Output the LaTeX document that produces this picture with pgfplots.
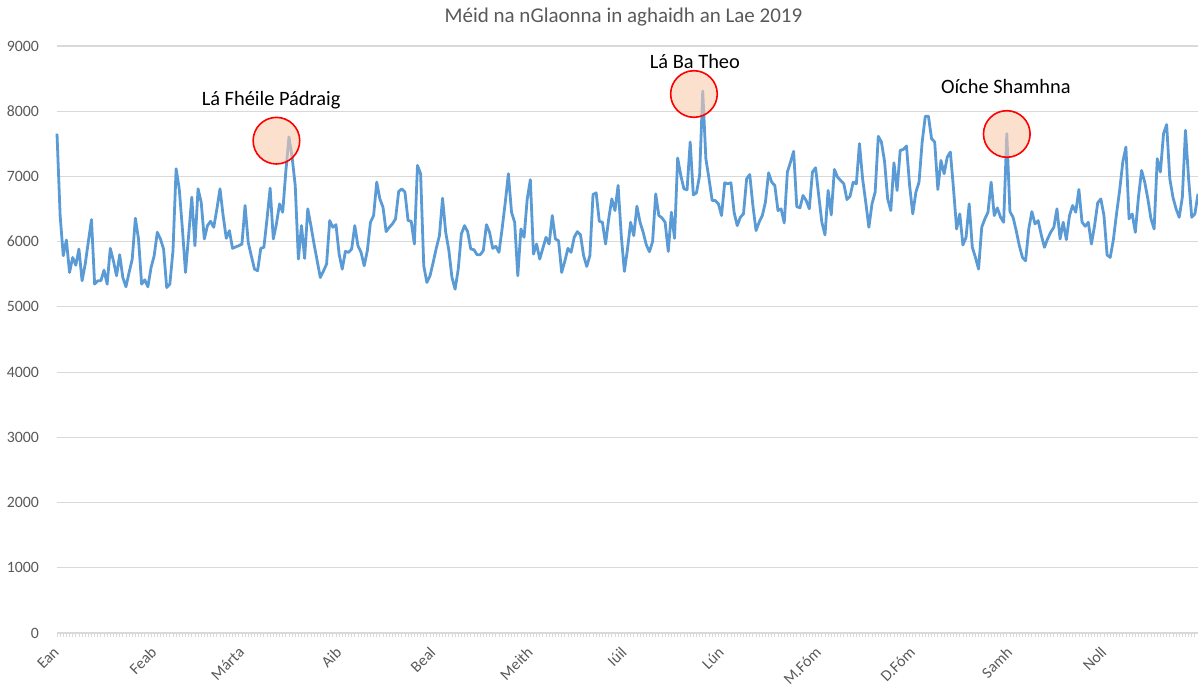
\documentclass[border=0pt]{standalone}
\usepackage{fontspec}
\setmainfont{Carlito}
\usepackage{pgfplots}
\pgfplotsset{compat=1.18}
\definecolor{lineblue}{HTML}{5B9BD5}
\definecolor{gridgray}{HTML}{D9D9D9}
\definecolor{txtgray}{HTML}{595959}
\definecolor{peach}{HTML}{F8CBAD}
\begin{document}
\begin{tikzpicture}
\begin{axis}[
  scale only axis,
  width=570.5pt, height=293.5pt,
  xmin=0, xmax=364, ymin=0, ymax=9000,
  axis lines*=left,
  x axis line style={gridgray, line width=0.6pt},
  y axis line style={draw=none},
  ymajorgrids, grid style={gridgray, line width=0.6pt},
  ytick={0,1000,...,9000},
  ytick style={draw=none},
  yticklabel style={font=\fontsize{7.9pt}{9pt}\selectfont, text=txtgray, xshift=-3.5pt},
  /pgf/number format/assume math mode=true,
  /pgf/number format/1000 sep={},
  xtick={0,31,59,90,120,151,181,212,243,273,304,334},
  xticklabels={Ean,Feab,Márta,Aib,Beal,Meith,Iúil,Lún,M.Fóm,D.Fóm,Samh,Noll},
  minor xtick={0,1,...,364},
  tick align=outside,
  major tick length=2pt, minor tick length=2pt,
  xtick style={gridgray, line width=0.4pt},
  minor tick style={gridgray, line width=0.4pt},
  xticklabel style={font=\fontsize{7.9pt}{9pt}\selectfont, text=txtgray, rotate=45, anchor=north east, xshift=-1.2pt, yshift=1.9pt},
  clip=false,
]
\addplot[lineblue, line width=1.4pt, line join=round] coordinates {
(0,7656) (1,6400) (2,5784) (3,6025) (4,5527) (5,5758) (6,5640) (7,5887) (8,5400) (9,5656)
(10,6000) (11,6338) (12,5349) (13,5400) (14,5400) (15,5564) (16,5349) (17,5897) (18,5707) (19,5477)
(20,5800) (21,5451) (22,5308) (23,5528) (24,5733) (25,6359) (26,6041) (27,5349) (28,5415) (29,5308)
(30,5600) (31,5785) (32,6144) (33,6041) (34,5887) (35,5297) (36,5349) (37,5862) (38,7118) (39,6810)
(40,6200) (41,5528) (42,6100) (43,6682) (44,5938) (45,6810) (46,6605) (47,6041) (48,6246) (49,6313)
(50,6220) (51,6500) (52,6810) (53,6400) (54,6051) (55,6169) (56,5897) (57,5920) (58,5938) (59,5964)
(60,6554) (61,5990) (62,5780) (63,5579) (64,5554) (65,5897) (66,5913) (67,6349) (68,6820) (69,6041)
(70,6272) (71,6579) (72,6451) (73,7077) (74,7605) (75,7297) (76,6861) (77,5733) (78,6246) (79,5743)
(80,6503) (81,6246) (82,5964) (83,5707) (84,5451) (85,5550) (86,5656) (87,6323) (88,6220) (89,6261)
(90,5810) (91,5579) (92,5851) (93,5836) (94,5887) (95,6246) (96,5938) (97,5836) (98,5630) (99,5862)
(100,6297) (101,6400) (102,6913) (103,6656) (104,6528) (105,6154) (106,6220) (107,6272) (108,6349) (109,6769)
(110,6810) (111,6759) (112,6323) (113,6313) (114,5964) (115,7169) (116,7041) (117,5630) (118,5374) (119,5477)
(120,5682) (121,5900) (122,6092) (123,6666) (124,6144) (125,5870) (126,5451) (127,5272) (128,5579) (129,6118)
(130,6246) (131,6154) (132,5887) (133,5877) (134,5800) (135,5800) (136,5862) (137,6261) (138,6144) (139,5897)
(140,5928) (141,5836) (142,6200) (143,6600) (144,7041) (145,6451) (146,6297) (147,5477) (148,6195) (149,6067)
(150,6650) (151,6950) (152,5810) (153,5964) (154,5733) (155,5900) (156,6067) (157,5964) (158,6400) (159,6041)
(160,6015) (161,5528) (162,5700) (163,5897) (164,5836) (165,6067) (166,6154) (167,6103) (168,5785) (169,5620)
(170,5785) (171,6723) (172,6749) (173,6313) (174,6297) (175,5964) (176,6349) (177,6656) (178,6477) (179,6861)
(180,6100) (181,5544) (182,5887) (183,6297) (184,6092) (185,6544) (186,6297) (187,6144) (188,5950) (189,5846)
(190,6000) (191,6733) (192,6400) (193,6364) (194,6297) (195,5851) (196,6451) (197,6051) (198,7282) (199,7015)
(200,6810) (201,6795) (202,7528) (203,6718) (204,6749) (205,7015) (206,8308) (207,7272) (208,6964) (209,6631)
(210,6631) (211,6580) (212,6400) (213,6903) (214,6887) (215,6903) (216,6451) (217,6246) (218,6374) (219,6426)
(220,6964) (221,7030) (222,6554) (223,6169) (224,6300) (225,6400) (226,6605) (227,7056) (228,6913) (229,6861)
(230,6477) (231,6503) (232,6287) (233,7067) (234,7220) (235,7385) (236,6538) (237,6518) (238,6708) (239,6631)
(240,6503) (241,7067) (242,7133) (243,6708) (244,6297) (245,6103) (246,6785) (247,6410) (248,7108) (249,6990)
(250,6938) (251,6887) (252,6646) (253,6697) (254,6913) (255,6887) (256,7503) (257,6964) (258,6605) (259,6220)
(260,6580) (261,6759) (262,7615) (263,7528) (264,7231) (265,6656) (266,6477) (267,7210) (268,6785) (269,7400)
(270,7415) (271,7467) (272,6861) (273,6426) (274,6759) (275,6913) (276,7528) (277,7923) (278,7923) (279,7579)
(280,7528) (281,6800) (282,7246) (283,7041) (284,7297) (285,7374) (286,6810) (287,6195) (288,6426) (289,5949)
(290,6067) (291,6580) (292,5913) (293,5758) (294,5579) (295,6220) (296,6349) (297,6451) (298,6913) (299,6400)
(300,6518) (301,6374) (302,6297) (303,7656) (304,6461) (305,6374) (306,6169) (307,5938) (308,5758) (309,5707)
(310,6195) (311,6461) (312,6272) (313,6323) (314,6103) (315,5913) (316,6041) (317,6144) (318,6220) (319,6503)
(320,6041) (321,6297) (322,6031) (323,6400) (324,6554) (325,6451) (326,6800) (327,6300) (328,6236) (329,6297)
(330,5964) (331,6246) (332,6595) (333,6656) (334,6400) (335,5795) (336,5758) (337,6031) (338,6426) (339,6785)
(340,7220) (341,7451) (342,6349) (343,6426) (344,6144) (345,6682) (346,7092) (347,6913) (348,6656) (349,6349)
(350,6195) (351,7272) (352,7067) (353,7656) (354,7795) (355,6964) (356,6682) (357,6503) (358,6374) (359,6682)
(360,7708) (361,6964) (362,6374) (363,6426) (364,6733)
};
\draw[red, line width=0.8pt, fill=peach, fill opacity=0.6] (axis cs:70,7548) circle[radius=11.65pt];
\draw[red, line width=0.8pt, fill=peach, fill opacity=0.6] (axis cs:203.2,8264) circle[radius=11.65pt];
\draw[red, line width=0.8pt, fill=peach, fill opacity=0.6] (axis cs:303,7651) circle[radius=11.65pt];
\node[font=\fontsize{10.2pt}{12pt}\selectfont, text=black] at (axis cs:68.3,8175) {Lá Fhéile Pádraig};
\node[font=\fontsize{10.2pt}{12pt}\selectfont, text=black] at (axis cs:203.5,8755) {Lá Ba Theo};
\node[font=\fontsize{10.2pt}{12pt}\selectfont, text=black] at (axis cs:302.7,8372) {Oíche Shamhna};
\node[font=\fontsize{10.5pt}{12pt}\selectfont, text=txtgray] at (rel axis cs:0.4965,1.0494) {Méid na nGlaonna in aghaidh an Lae 2019};
\end{axis}
\pgfresetboundingbox
\path (-28.5pt,-26.5pt) rectangle (570.5pt,316.5pt);
\end{tikzpicture}
\end{document}
